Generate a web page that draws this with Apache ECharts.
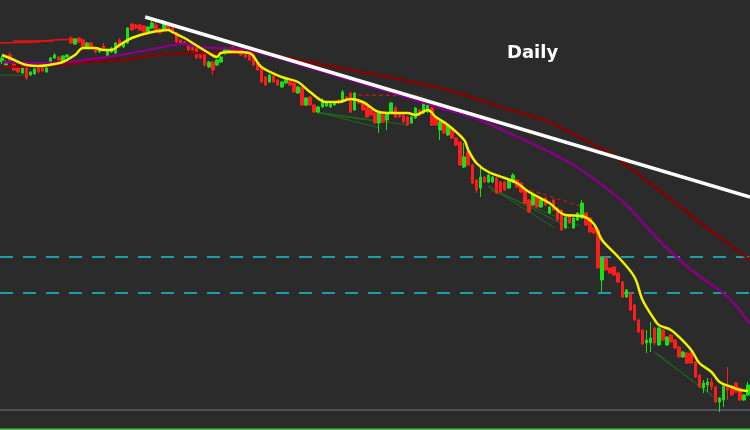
<!DOCTYPE html>
<html><head><meta charset="utf-8">
<script src="https://cdn.jsdelivr.net/npm/echarts@6/dist/echarts.min.js"></script>
<style>html,body{margin:0;padding:0;background:#2b2b2b}#c{width:750px;height:430px}</style>
</head><body><div id="c"></div>
<script>
// OHLC candles: [open, close, low, high]
const candles = [
[368,372,366,374],[365,368,364,370],[375,370,369,378],[367,360,359,368],[362,358,357,363],
[357,362,356,363],[365,352,350,366],[355,358,354,359],[356,361,355,362],[362,358,357,364],
[362,359,358,363],[358,362,357,363],[366,372,365,373],[372,375,371,377],[373,370,369,374],
[369,374,368,375],[373,375,372,376],[392,387,386,394],[386,391,385,392],[392,388,387,393],
[390,382,381,391],[382,387,381,388],[387,382,381,388],[382,378,377,383],[378,381,377,382],
[384,380,379,387],[373,380,372,381],[378,382,377,383],[377,387,376,388],[390,383,382,392],
[383,388,382,389],[387,402,386,403],[406,400,399,407],[405,402,401,406],[405,400,399,406],
[404,398,397,405],[398,403,397,404],[402,407,401,409],[405,400,399,408],[401,397,396,402],
[401,407,400,410],[405,400,399,406],[402,397,396,403],[397,388,387,398],[390,387,386,391],
[388,386,385,389],[385,380,379,386],[383,380,379,384],[382,372,371,383],[377,372,371,378],
[377,365,363,378],[363,368,362,369],[368,360,355,369],[365,370,364,371],[368,373,367,374],
[376,381,375,382],[377,380,376,381],[383,378,377,384],[381,378,377,382],[380,375,374,381],
[377,373,372,378],[380,370,369,381],[375,365,364,377],[367,360,359,368],[362,348,347,363],
[353,345,344,354],[348,355,347,356],[354,348,347,355],[350,345,344,351],[343,348,342,349],
[347,352,346,353],[349,345,344,350],[347,338,337,348],[337,343,336,344],[342,325,324,343],
[325,332,324,333],[333,325,324,334],[325,318,317,326],[318,323,317,324],[323,328,322,332],
[324,327,323,328],[323,326,322,327],[325,327,324,328],[330,327,326,331],[328,338,327,340],
[333,330,329,334],[337,318,317,338],[320,337,319,338],[330,327,326,331],[327,320,319,328],
[323,313,312,324],[320,315,314,321],[317,307,306,318],[307,317,297,318],[315,308,307,316],
[310,317,300,318],[318,327,317,328],[322,313,312,324],[317,313,312,318],[315,308,307,316],
[313,305,304,314],[307,313,306,314],[312,322,311,323],[320,315,314,321],[317,327,316,328],
[318,327,317,329],[322,305,304,323],[313,305,304,314],[300,308,290,309],[308,297,296,309],
[295,305,294,306],[302,292,291,303],[292,285,284,293],[288,265,264,289],[263,273,262,287],
[278,265,264,280],[265,247,246,266],[250,240,237,251],[242,253,233,265],[253,248,247,254],
[248,255,247,256],[248,253,247,254],[252,237,236,253],[248,238,237,249],[248,240,239,249],
[242,250,241,251],[248,255,247,257],[250,243,242,251],[247,238,237,248],[240,227,226,241],
[230,218,217,231],[225,235,224,236],[233,223,222,234],[223,230,222,231],[232,225,224,233],
[217,223,216,224],[230,220,219,231],[222,210,209,223],[220,200,199,221],[202,213,201,214],
[215,207,206,216],[202,212,201,213],[210,217,209,218],[212,227,211,230],[217,205,204,218],
[212,198,197,213],[202,197,196,203],[200,162,161,201],[150,172,138,173],[172,160,159,173],
[162,157,156,163],[163,155,154,164],[157,148,147,158],[148,133,132,149],[133,140,132,141],
[137,120,119,138],[125,110,109,126],[110,98,97,111],[100,86,85,101],[87,90,77,100],
[87,92,78,108],[102,87,85,103],[85,102,84,103],[100,90,89,101],[85,93,84,94],
[95,88,87,96],[90,82,81,91],[83,73,72,84],[73,78,72,79],[77,67,66,78],
[77,67,66,78],[68,53,52,69],[55,43,42,56],[42,47,37,50],[45,48,38,52],
[48,43,40,52],[43,28,27,44],[28,32,18,33],[30,44,23,45],[44,40,30,63],
[43,35,34,44],[47,38,37,48],[42,30,29,43],[30,35,29,36],[35,45,34,48]
];
const categories = candles.map((_, i) => 'D' + (i + 1));

// moving averages as [bar index, price]
const maFast = [[0,375],[3,370],[4,368],[6,365],[9,364],[13,366],[15,368],[18,375],[20,382],[23,382],[25,380],[27,380],[29,385],[32,392],[36,397],[41,400],[42,398],[45,392],[47,387],[51,377],[53,373],[54,377],[57,378],[61,377],[64,363],[69,353],[73,348],[76,338],[80,328],[83,328],[86,331],[89,328],[93,318],[96,317],[100,317],[102,315],[105,320],[107,313],[110,305],[114,290],[115,280],[117,267],[120,258],[124,252],[127,247],[130,238],[135,227],[139,215],[143,214],[146,206],[148,190],[152,173],[156,153],[158,130],[161,110],[162,105],[165,100],[167,93],[170,80],[172,67],[175,58],[177,48],[180,43],[182,40],[184,39]];
const maMid = [[0,368],[8,367],[16,368],[24,372],[32,377],[41,384],[45,386],[49,383],[53,382],[61,380],[77,361],[86,350],[94,340],[102,330],[108,322],[116,313],[125,297],[133,282],[141,265],[148,245],[154,225],[162,190],[170,160],[179,133],[184.5,106]];
const maSlow = [[0,363],[8,364],[16,366],[24,369],[30,370],[38,375],[47,377],[55,377],[62,378],[69,373],[78,366],[86,360],[94,354],[99,350],[108,342],[118,330],[123,323],[135,308],[145,287],[150,277],[162,240],[172,208],[184.5,170]];
const trendLine = [[35.3,413],[184.5,233]];
const levels = [173, 137];
const baseLevel = 20;
const redSolid = [[[-0.5,387],[8.6,388],[12.6,390],[19.7,391]], [[2.7,389],[12.6,389]]];
const redDashed = [[[87.8,335],[103.8,334]], [[130.2,240],[142.6,224]]];
const greenFan = [
  [[77.7,318],[93.2,302]], [[77.7,318],[100.1,305]], [[77.7,317],[93.7,308]],
  [[119.9,244],[136.4,202]], [[119.9,244],[140.1,202]], [[120.4,240],[142.6,204]],
  [[161.1,78],[176.4,30]], [[161.1,77],[175.1,35]], [[-0.5,355],[5.7,355]]
];

const X0 = -0.5, X1 = candles.length - 0.5;
const seg = (data, color, width, type, z, smooth) => ({
  type: 'line', xAxisIndex: 1, data, showSymbol: false, silent: true, z,
  smooth: smooth || false,
  lineStyle: { color, width, type }
});

const series = [];
levels.forEach(v => series.push(seg([[X0, v], [X1, v]], '#1f9da6', 2, [13, 10], 1)));
series.push(seg([[X0, baseLevel], [X1, baseLevel]], '#5b6169', 1.5, 'solid', 1));
series.push(seg([[X0, 0.6], [X1, 0.6]], '#2fd42f', 2, 'solid', 1));
series.push({
  type: 'candlestick', data: candles, barWidth: 3, z: 3,
  itemStyle: { color: '#17e017', color0: '#ff1c1c', borderColor: '#17e017', borderColor0: '#ff1c1c', borderWidth: 1 }
});
greenFan.forEach(s => series.push(seg(s, '#1c6a1c', 1, 'solid', 2)));
redSolid.forEach(s => series.push(seg(s, '#ee1111', 1.5, 'solid', 2)));
redDashed.forEach(s => series.push(seg(s, '#c81818', 1.2, [4, 3], 2)));
series.push(seg(maSlow, '#880000', 2.5, 'solid', 4, 0.3));
series.push(seg(maMid, '#850085', 2.5, 'solid', 4, 0.3));
series.push(seg(maFast, '#f2f200', 2.5, 'solid', 5, 0.35));
series.push(seg(trendLine, '#ffffff', 3.5, 'solid', 6));

const chart = echarts.init(document.getElementById('c'), null, { renderer: 'canvas' });
chart.setOption({
  animation: false,
  backgroundColor: '#2b2b2b',
  grid: { left: 0, right: 0, top: 0, bottom: 0 },
  xAxis: [
    { type: 'category', data: categories, boundaryGap: true, show: false },
    { type: 'value', min: X0, max: X1, show: false }
  ],
  yAxis: { type: 'value', min: 0, max: 430, show: false },
  graphic: [{
    type: 'text', left: 507, top: 44,
    style: { text: 'Daily', fill: '#ffffff', font: 'bold 18px "DejaVu Sans"' }
  }],
  series
});
</script></body></html>
